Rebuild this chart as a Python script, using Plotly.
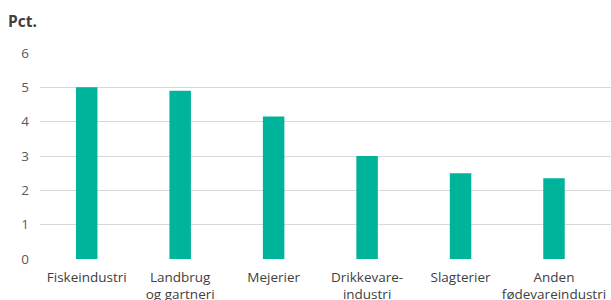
import plotly.graph_objects as go

categories = ["Fiskeindustri", "Landbrug<br>og gartneri", "Mejerier", "Drikkevare-<br>industri",
              "Slagterier", "Anden<br>fødevareindustri"]
values = [5.0, 4.9, 4.15, 3.0, 2.5, 2.35]
y_ticks = [0, 1, 2, 3, 4, 5, 6]

fig = go.Figure(go.Bar(
    x=list(range(len(categories))), y=values,
    marker=dict(color="#00b39b", line=dict(width=0)),
    width=0.23,
))

fig.update_layout(
    width=611, height=300,
    margin=dict(l=40, r=0, t=53, b=41),
    paper_bgcolor="white", plot_bgcolor="white",
    font=dict(family="Open Sans", size=13.5, color="#595959"),
    showlegend=False,
    xaxis=dict(
        range=[-0.5, 5.61], automargin=False,
        tickmode="array", tickvals=list(range(len(categories))), ticktext=categories,
        showgrid=False, zeroline=False, showline=False, ticks="",
        ticklabelstandoff=8,
        tickfont=dict(size=13.5, color="#404040"),
    ),
    yaxis=dict(
        range=[0, 6], tickmode="array", tickvals=y_ticks, automargin=False,
        showgrid=True, gridcolor="#d9d9d9", gridwidth=1.2,
        zeroline=False, showline=False, ticks="",
        ticklabelstandoff=10,
        tickfont=dict(size=13.5, color="#595959"),
    ),
    annotations=[dict(
        text="<b>Pct.</b>", xref="paper", yref="paper",
        x=-40/571, y=1 + 32/206, xanchor="left", yanchor="middle",
        showarrow=False, font=dict(size=15.5, color="#404040"),
        xshift=6,
    )],
)

fig.write_html("out.html", config={"displayModeBar": False},
               post_script="document.body.style.margin='0';")
